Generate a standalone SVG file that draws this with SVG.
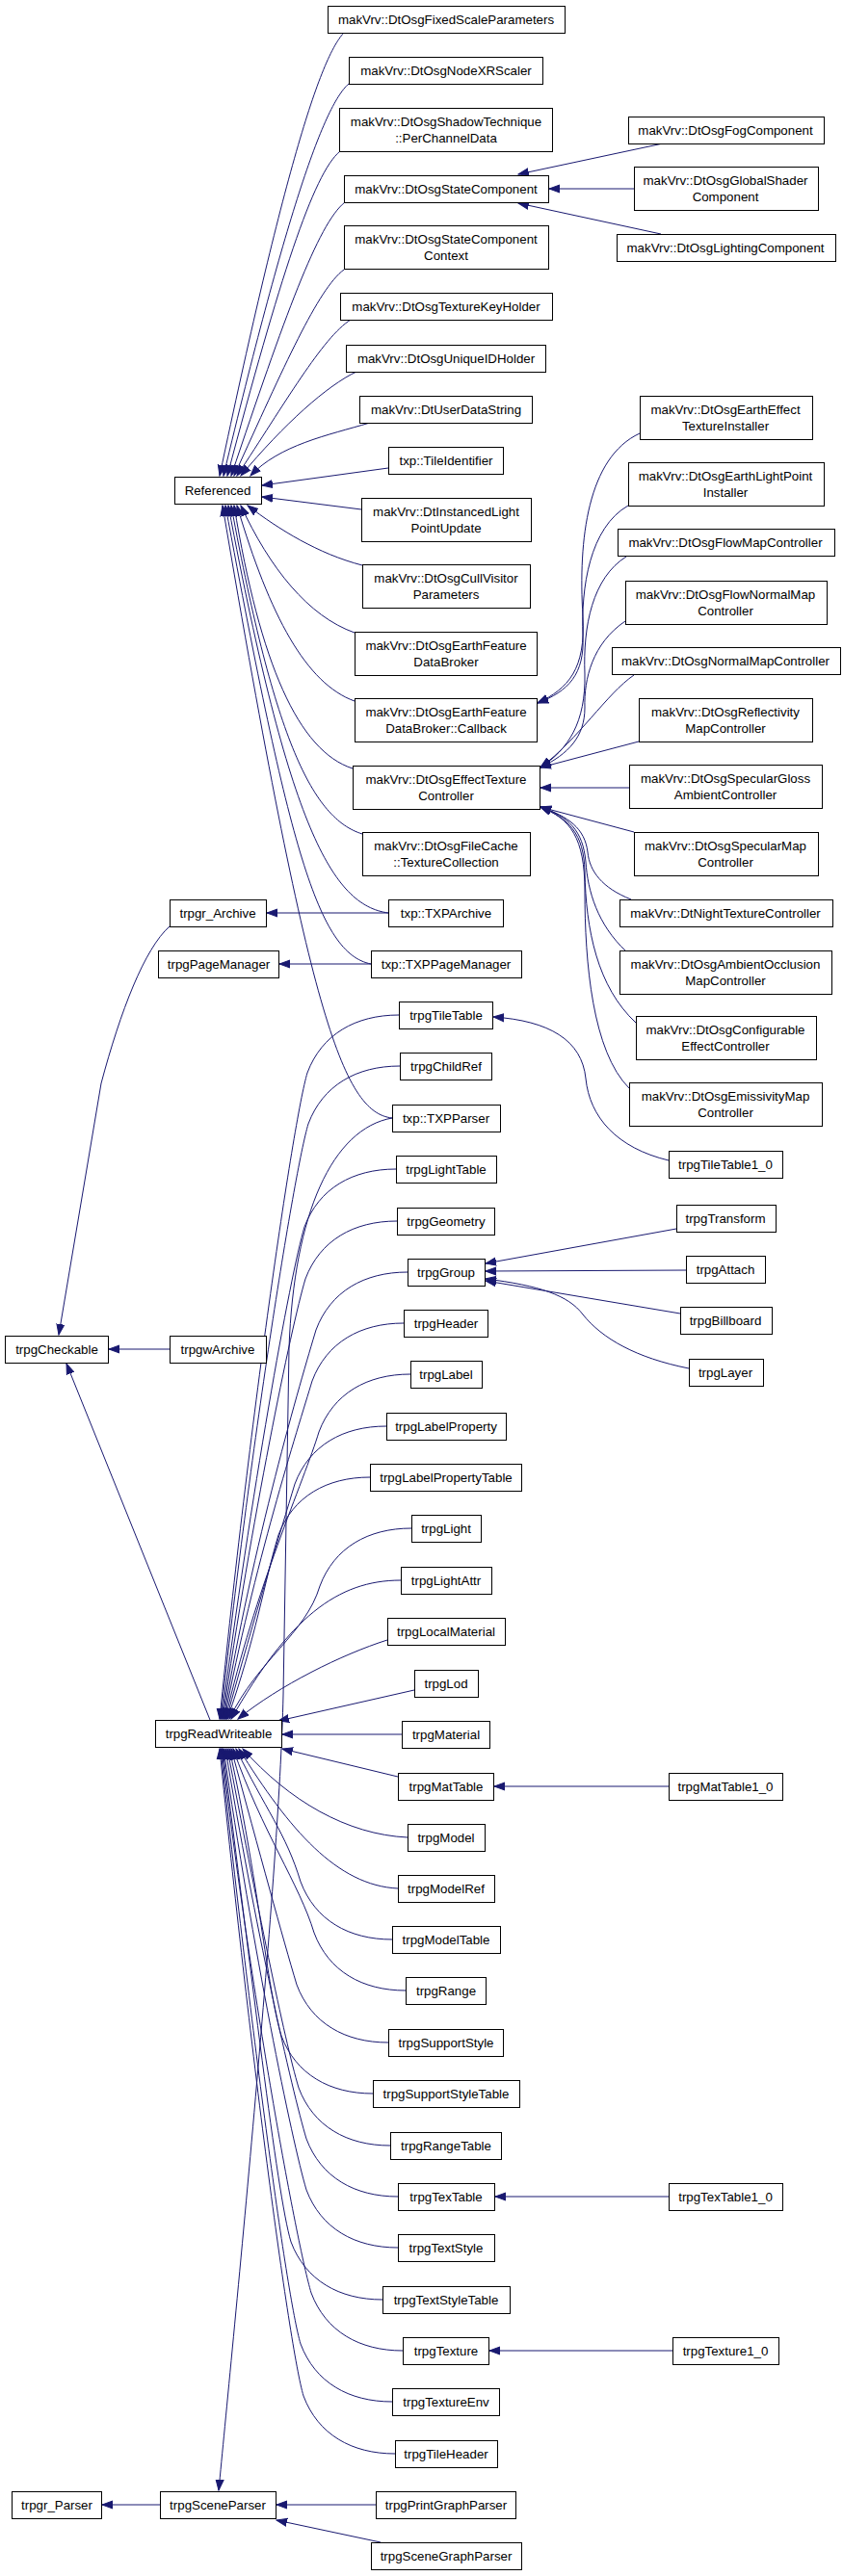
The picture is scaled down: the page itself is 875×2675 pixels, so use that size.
<svg xmlns="http://www.w3.org/2000/svg" width="875" height="2675" viewBox="0 0 875 2675">
<style>
.node rect{fill:#fff;stroke:#000;stroke-width:1}
.node text{font-family:"Liberation Sans",Arial,Helvetica,sans-serif;font-size:13.3px;fill:#000;text-anchor:middle}
.edge{fill:none;stroke:#191970;stroke-width:1;marker-end:url(#ah)}
</style>
<defs>
<marker id="ah" markerWidth="12" markerHeight="10" refX="11" refY="5" orient="auto" markerUnits="userSpaceOnUse"><path d="M0,1 L11,5 L0,9 z" fill="#191970" stroke="#191970" stroke-width="1"/></marker>
</defs>
<rect width="875" height="2675" fill="#fff"/>
<g id="edges">
<path class="edge" d="M357,34 C330,62 290,200 228,494"/>
<path class="edge" d="M362,87 C335,110 295,230 232,494"/>
<path class="edge" d="M353,157 C325,180 290,290 236,494"/>
<path class="edge" d="M358,210 C330,232 295,330 240,494"/>
<path class="edge" d="M357,280 C330,300 295,380 243,494"/>
<path class="edge" d="M364,332 C335,350 295,420 246,494"/>
<path class="edge" d="M370,386 C340,400 295,440 250,494"/>
<path class="edge" d="M384,439 C340,452 290,462 260,494"/>
<path class="edge" d="M403,486 L272,504"/>
<path class="edge" d="M375,529 L272,516"/>
<path class="edge" d="M376,587 C330,575 290,550 257,525"/>
<path class="edge" d="M368,657 C320,640 280,590 250,525"/>
<path class="edge" d="M368,728 C318,710 280,640 246,525"/>
<path class="edge" d="M366,798 C310,780 270,690 243,525"/>
<path class="edge" d="M376,866 C325,850 285,770 240,525"/>
<path class="edge" d="M403,948 C345,940 300,860 237,525"/>
<path class="edge" d="M385,1001 C330,990 300,880 234,525"/>
<path class="edge" d="M407,1161 C355,1155 320,1050 231,525"/>
<path class="edge" d="M688,149 L538,181"/>
<path class="edge" d="M658,196 L570,196"/>
<path class="edge" d="M686,243 L538,211"/>
<path class="edge" d="M664,450 C610,475 600,560 605,640 C608,695 590,715 558,730"/>
<path class="edge" d="M652,525 C612,548 603,610 605,660 C607,700 590,718 558,730"/>
<path class="edge" d="M650,578 C615,600 605,650 607,700 C608,750 590,778 561,797"/>
<path class="edge" d="M649,645 C615,668 606,705 607,735 C607,765 590,783 561,797"/>
<path class="edge" d="M658,701 C630,720 600,768 561,797"/>
<path class="edge" d="M663,770 L561,797"/>
<path class="edge" d="M653,818 L561,818"/>
<path class="edge" d="M658,864 L561,838"/>
<path class="edge" d="M655,934 C625,922 612,905 610,885 C607,860 590,848 561,838"/>
<path class="edge" d="M650,988 C620,960 610,925 608,895 C605,862 590,848 561,838"/>
<path class="edge" d="M660,1062 C620,1025 608,965 607,905 C606,865 590,850 561,838"/>
<path class="edge" d="M653,1130 C615,1092 607,1000 607,925 C607,870 592,850 561,838"/>
<path class="edge" d="M403,948 L277,948"/>
<path class="edge" d="M385,1001 L290,1001"/>
<path class="edge" d="M694,1205 C640,1192 612,1160 608,1120 C604,1080 570,1060 512,1056"/>
<path class="edge" d="M702,1276 L504,1312"/>
<path class="edge" d="M712,1319 L504,1320"/>
<path class="edge" d="M706,1364 L504,1330"/>
<path class="edge" d="M715,1421 C660,1410 625,1390 605,1365 C590,1345 560,1335 504,1328"/>
<path class="edge" d="M176,962 C150,985 125,1050 105,1125 L61,1386"/>
<path class="edge" d="M176,1401 L113,1401"/>
<path class="edge" d="M218,1786 L69,1416"/>
<path class="edge" d="M694,1855 L513,1855"/>
<path class="edge" d="M694,2281 L514,2281"/>
<path class="edge" d="M698,2441 L508,2441"/>
<path class="edge" d="M166,2601 L106,2601"/>
<path class="edge" d="M390,2601 L287,2601"/>
<path class="edge" d="M395,2640 L287,2617"/>
<path class="edge" d="M407,1161 C345,1172 305,1260 300,1400 L294,1760 C290,1950 240,2450 227,2586"/>
<path class="edge" d="M414,1054 C369,1054 334,1074 319,1114 C304,1164 258,1483 228,1785"/>
<path class="edge" d="M415,1107 C370,1107 335,1127 320,1167 C305,1217 259,1507 229,1785"/>
<path class="edge" d="M411,1214 C366,1214 331,1234 316,1274 C301,1324 260,1555 230,1785"/>
<path class="edge" d="M412,1268 C367,1268 332,1288 317,1328 C302,1378 261,1579 231,1785"/>
<path class="edge" d="M423,1321 C378,1321 343,1341 328,1381 C313,1431 262,1603 232,1785"/>
<path class="edge" d="M419,1374 C374,1374 339,1394 324,1434 C309,1484 263,1627 233,1785"/>
<path class="edge" d="M426,1427 C381,1427 346,1447 331,1487 C316,1537 264,1651 234,1785"/>
<path class="edge" d="M401,1481 C356,1481 321,1501 306,1541 C291,1591 265,1675 235,1785"/>
<path class="edge" d="M384,1534 C339,1534 304,1554 289,1594 C274,1644 266,1699 236,1785"/>
<path class="edge" d="M427,1587 C382,1587 347,1607 332,1647 C317,1697 268,1723 238,1785"/>
<path class="edge" d="M416,1641 C350,1641 300,1680 240,1785"/>
<path class="edge" d="M402,1703 C355,1718 290,1750 247,1785"/>
<path class="edge" d="M430,1755 L289,1787"/>
<path class="edge" d="M417,1801 L293,1801"/>
<path class="edge" d="M413,1845 L293,1816"/>
<path class="edge" d="M423,1908 C360,1905 300,1870 252,1816"/>
<path class="edge" d="M413,1961 C350,1958 300,1900 248,1816"/>
<path class="edge" d="M407,2014 C362,2014 327,1994 312,1954 C297,1904 275,1878 245,1816"/>
<path class="edge" d="M421,2067 C376,2067 341,2047 326,2007 C311,1957 272,1902 242,1816"/>
<path class="edge" d="M403,2121 C358,2121 323,2101 308,2061 C293,2011 270,1926 240,1816"/>
<path class="edge" d="M387,2174 C342,2174 307,2154 292,2114 C277,2064 268,1950 238,1816"/>
<path class="edge" d="M405,2228 C360,2228 325,2208 310,2168 C295,2118 266,1974 236,1816"/>
<path class="edge" d="M413,2281 C368,2281 333,2261 318,2221 C303,2171 264,1998 234,1816"/>
<path class="edge" d="M413,2334 C368,2334 333,2314 318,2274 C303,2224 262,2022 232,1816"/>
<path class="edge" d="M397,2388 C352,2388 317,2368 302,2328 C287,2278 261,2046 231,1816"/>
<path class="edge" d="M418,2441 C373,2441 338,2421 323,2381 C308,2331 260,2070 230,1816"/>
<path class="edge" d="M407,2494 C362,2494 327,2474 312,2434 C297,2384 259,2094 229,1816"/>
<path class="edge" d="M410,2548 C365,2548 330,2528 315,2488 C300,2438 258,2118 228,1816"/>
</g>
<g id="Referenced" class="node"><rect x="181.5" y="495.5" width="90" height="28"/><text x="226" y="514">Referenced</text></g>
<g id="trpgr_Archive" class="node"><rect x="176.5" y="934.5" width="100" height="28"/><text x="226" y="953">trpgr_Archive</text></g>
<g id="trpgPageManager" class="node"><rect x="164.5" y="987.5" width="125" height="28"/><text x="227" y="1006">trpgPageManager</text></g>
<g id="trpgwArchive" class="node"><rect x="176.5" y="1387.5" width="100" height="28"/><text x="226" y="1406">trpgwArchive</text></g>
<g id="trpgReadWriteable" class="node"><rect x="161.5" y="1786.5" width="131" height="28"/><text x="227" y="1805">trpgReadWriteable</text></g>
<g id="trpgSceneParser" class="node"><rect x="166.5" y="2587.5" width="120" height="28"/><text x="226" y="2606">trpgSceneParser</text></g>
<g id="trpgCheckable" class="node"><rect x="5.5" y="1387.5" width="107" height="28"/><text x="59" y="1406">trpgCheckable</text></g>
<g id="trpgr_Parser" class="node"><rect x="12.5" y="2587.5" width="93" height="28"/><text x="59" y="2606">trpgr_Parser</text></g>
<g id="FixedScaleParameters" class="node"><rect x="340.5" y="6.5" width="246" height="28"/><text x="463" y="25">makVrv::DtOsgFixedScaleParameters</text></g>
<g id="NodeXRScaler" class="node"><rect x="362.5" y="59.5" width="201" height="28"/><text x="463" y="78">makVrv::DtOsgNodeXRScaler</text></g>
<g id="PerChannelData" class="node"><rect x="352.5" y="112.5" width="221" height="45"/><text x="463" y="131">makVrv::DtOsgShadowTechnique</text><text x="463" y="148">::PerChannelData</text></g>
<g id="StateComponent" class="node"><rect x="357.5" y="182.5" width="212" height="28"/><text x="463" y="201">makVrv::DtOsgStateComponent</text></g>
<g id="StateComponentContext" class="node"><rect x="357.5" y="234.5" width="212" height="45"/><text x="463" y="253">makVrv::DtOsgStateComponent</text><text x="463" y="270">Context</text></g>
<g id="TextureKeyHolder" class="node"><rect x="353.5" y="304.5" width="220" height="28"/><text x="463" y="323">makVrv::DtOsgTextureKeyHolder</text></g>
<g id="UniqueIDHolder" class="node"><rect x="359.5" y="358.5" width="207" height="28"/><text x="463" y="377">makVrv::DtOsgUniqueIDHolder</text></g>
<g id="UserDataString" class="node"><rect x="373.5" y="411.5" width="179" height="28"/><text x="463" y="430">makVrv::DtUserDataString</text></g>
<g id="TileIdentifier" class="node"><rect x="403.5" y="464.5" width="119" height="28"/><text x="463" y="483">txp::TileIdentifier</text></g>
<g id="InstancedLightPointUpdate" class="node"><rect x="375.5" y="517.5" width="176" height="45"/><text x="463" y="536">makVrv::DtInstancedLight</text><text x="463" y="553">PointUpdate</text></g>
<g id="CullVisitorParameters" class="node"><rect x="376.5" y="586.5" width="174" height="45"/><text x="463" y="605">makVrv::DtOsgCullVisitor</text><text x="463" y="622">Parameters</text></g>
<g id="EarthFeatureDataBroker" class="node"><rect x="368.5" y="656.5" width="189" height="45"/><text x="463" y="675">makVrv::DtOsgEarthFeature</text><text x="463" y="692">DataBroker</text></g>
<g id="DataBrokerCallback" class="node"><rect x="368.5" y="725.5" width="189" height="45"/><text x="463" y="744">makVrv::DtOsgEarthFeature</text><text x="463" y="761">DataBroker::Callback</text></g>
<g id="EffectTextureController" class="node"><rect x="366.5" y="795.5" width="194" height="45"/><text x="463" y="814">makVrv::DtOsgEffectTexture</text><text x="463" y="831">Controller</text></g>
<g id="TextureCollection" class="node"><rect x="376.5" y="864.5" width="174" height="45"/><text x="463" y="883">makVrv::DtOsgFileCache</text><text x="463" y="900">::TextureCollection</text></g>
<g id="TXPArchive" class="node"><rect x="403.5" y="934.5" width="119" height="28"/><text x="463" y="953">txp::TXPArchive</text></g>
<g id="TXPPageManager" class="node"><rect x="385.5" y="987.5" width="156" height="28"/><text x="463" y="1006">txp::TXPPageManager</text></g>
<g id="trpgTileTable" class="node"><rect x="414.5" y="1040.5" width="97" height="28"/><text x="463" y="1059">trpgTileTable</text></g>
<g id="trpgChildRef" class="node"><rect x="415.5" y="1093.5" width="95" height="28"/><text x="463" y="1112">trpgChildRef</text></g>
<g id="TXPParser" class="node"><rect x="407.5" y="1147.5" width="112" height="28"/><text x="463" y="1166">txp::TXPParser</text></g>
<g id="trpgLightTable" class="node"><rect x="411.5" y="1200.5" width="104" height="28"/><text x="463" y="1219">trpgLightTable</text></g>
<g id="trpgGeometry" class="node"><rect x="412.5" y="1254.5" width="101" height="28"/><text x="463" y="1273">trpgGeometry</text></g>
<g id="trpgGroup" class="node"><rect x="423.5" y="1307.5" width="80" height="28"/><text x="463" y="1326">trpgGroup</text></g>
<g id="trpgHeader" class="node"><rect x="419.5" y="1360.5" width="87" height="28"/><text x="463" y="1379">trpgHeader</text></g>
<g id="trpgLabel" class="node"><rect x="426.5" y="1413.5" width="74" height="28"/><text x="463" y="1432">trpgLabel</text></g>
<g id="trpgLabelProperty" class="node"><rect x="401.5" y="1467.5" width="124" height="28"/><text x="463" y="1486">trpgLabelProperty</text></g>
<g id="trpgLabelPropertyTable" class="node"><rect x="384.5" y="1520.5" width="157" height="28"/><text x="463" y="1539">trpgLabelPropertyTable</text></g>
<g id="trpgLight" class="node"><rect x="427.5" y="1573.5" width="72" height="28"/><text x="463" y="1592">trpgLight</text></g>
<g id="trpgLightAttr" class="node"><rect x="416.5" y="1627.5" width="94" height="28"/><text x="463" y="1646">trpgLightAttr</text></g>
<g id="trpgLocalMaterial" class="node"><rect x="402.5" y="1680.5" width="122" height="28"/><text x="463" y="1699">trpgLocalMaterial</text></g>
<g id="trpgLod" class="node"><rect x="430.5" y="1734.5" width="66" height="28"/><text x="463" y="1753">trpgLod</text></g>
<g id="trpgMaterial" class="node"><rect x="417.5" y="1787.5" width="91" height="28"/><text x="463" y="1806">trpgMaterial</text></g>
<g id="trpgMatTable" class="node"><rect x="413.5" y="1841.5" width="99" height="28"/><text x="463" y="1860">trpgMatTable</text></g>
<g id="trpgModel" class="node"><rect x="423.5" y="1894.5" width="80" height="28"/><text x="463" y="1913">trpgModel</text></g>
<g id="trpgModelRef" class="node"><rect x="413.5" y="1947.5" width="100" height="28"/><text x="463" y="1966">trpgModelRef</text></g>
<g id="trpgModelTable" class="node"><rect x="407.5" y="2000.5" width="112" height="28"/><text x="463" y="2019">trpgModelTable</text></g>
<g id="trpgRange" class="node"><rect x="421.5" y="2053.5" width="83" height="28"/><text x="463" y="2072">trpgRange</text></g>
<g id="trpgSupportStyle" class="node"><rect x="403.5" y="2107.5" width="119" height="28"/><text x="463" y="2126">trpgSupportStyle</text></g>
<g id="trpgSupportStyleTable" class="node"><rect x="387.5" y="2160.5" width="152" height="28"/><text x="463" y="2179">trpgSupportStyleTable</text></g>
<g id="trpgRangeTable" class="node"><rect x="405.5" y="2214.5" width="115" height="28"/><text x="463" y="2233">trpgRangeTable</text></g>
<g id="trpgTexTable" class="node"><rect x="413.5" y="2267.5" width="100" height="28"/><text x="463" y="2286">trpgTexTable</text></g>
<g id="trpgTextStyle" class="node"><rect x="413.5" y="2320.5" width="100" height="28"/><text x="463" y="2339">trpgTextStyle</text></g>
<g id="trpgTextStyleTable" class="node"><rect x="397.5" y="2374.5" width="132" height="28"/><text x="463" y="2393">trpgTextStyleTable</text></g>
<g id="trpgTexture" class="node"><rect x="418.5" y="2427.5" width="89" height="28"/><text x="463" y="2446">trpgTexture</text></g>
<g id="trpgTextureEnv" class="node"><rect x="407.5" y="2480.5" width="111" height="28"/><text x="463" y="2499">trpgTextureEnv</text></g>
<g id="trpgTileHeader" class="node"><rect x="410.5" y="2534.5" width="106" height="28"/><text x="463" y="2553">trpgTileHeader</text></g>
<g id="trpgPrintGraphParser" class="node"><rect x="390.5" y="2587.5" width="145" height="28"/><text x="463" y="2606">trpgPrintGraphParser</text></g>
<g id="trpgSceneGraphParser" class="node"><rect x="385.5" y="2640.5" width="156" height="28"/><text x="463" y="2659">trpgSceneGraphParser</text></g>
<g id="FogComponent" class="node"><rect x="652.5" y="121.5" width="203" height="28"/><text x="753" y="140">makVrv::DtOsgFogComponent</text></g>
<g id="GlobalShaderComponent" class="node"><rect x="658.5" y="173.5" width="191" height="45"/><text x="753" y="192">makVrv::DtOsgGlobalShader</text><text x="753" y="209">Component</text></g>
<g id="LightingComponent" class="node"><rect x="640.5" y="243.5" width="227" height="28"/><text x="753" y="262">makVrv::DtOsgLightingComponent</text></g>
<g id="EarthEffectTextureInstaller" class="node"><rect x="664.5" y="411.5" width="179" height="45"/><text x="753" y="430">makVrv::DtOsgEarthEffect</text><text x="753" y="447">TextureInstaller</text></g>
<g id="EarthLightPointInstaller" class="node"><rect x="652.5" y="480.5" width="203" height="45"/><text x="753" y="499">makVrv::DtOsgEarthLightPoint</text><text x="753" y="516">Installer</text></g>
<g id="FlowMapController" class="node"><rect x="641.5" y="549.5" width="225" height="28"/><text x="753" y="568">makVrv::DtOsgFlowMapController</text></g>
<g id="FlowNormalMapController" class="node"><rect x="649.5" y="603.5" width="209" height="45"/><text x="753" y="622">makVrv::DtOsgFlowNormalMap</text><text x="753" y="639">Controller</text></g>
<g id="NormalMapController" class="node"><rect x="635.5" y="672.5" width="237" height="28"/><text x="753" y="691">makVrv::DtOsgNormalMapController</text></g>
<g id="ReflectivityMapController" class="node"><rect x="663.5" y="725.5" width="180" height="45"/><text x="753" y="744">makVrv::DtOsgReflectivity</text><text x="753" y="761">MapController</text></g>
<g id="SpecularGlossAmbientController" class="node"><rect x="653.5" y="794.5" width="200" height="45"/><text x="753" y="813">makVrv::DtOsgSpecularGloss</text><text x="753" y="830">AmbientController</text></g>
<g id="SpecularMapController" class="node"><rect x="658.5" y="864.5" width="191" height="45"/><text x="753" y="883">makVrv::DtOsgSpecularMap</text><text x="753" y="900">Controller</text></g>
<g id="NightTextureController" class="node"><rect x="643.5" y="934.5" width="221" height="28"/><text x="753" y="953">makVrv::DtNightTextureController</text></g>
<g id="AmbientOcclusionMapController" class="node"><rect x="643.5" y="987.5" width="220" height="45"/><text x="753" y="1006">makVrv::DtOsgAmbientOcclusion</text><text x="753" y="1023">MapController</text></g>
<g id="ConfigurableEffectController" class="node"><rect x="660.5" y="1055.5" width="187" height="45"/><text x="753" y="1074">makVrv::DtOsgConfigurable</text><text x="753" y="1091">EffectController</text></g>
<g id="EmissivityMapController" class="node"><rect x="653.5" y="1124.5" width="200" height="45"/><text x="753" y="1143">makVrv::DtOsgEmissivityMap</text><text x="753" y="1160">Controller</text></g>
<g id="trpgTileTable1_0" class="node"><rect x="694.5" y="1195.5" width="118" height="28"/><text x="753" y="1214">trpgTileTable1_0</text></g>
<g id="trpgTransform" class="node"><rect x="702.5" y="1251.5" width="103" height="28"/><text x="753" y="1270">trpgTransform</text></g>
<g id="trpgAttach" class="node"><rect x="712.5" y="1304.5" width="82" height="28"/><text x="753" y="1323">trpgAttach</text></g>
<g id="trpgBillboard" class="node"><rect x="706.5" y="1357.5" width="95" height="28"/><text x="753" y="1376">trpgBillboard</text></g>
<g id="trpgLayer" class="node"><rect x="715.5" y="1411.5" width="77" height="28"/><text x="753" y="1430">trpgLayer</text></g>
<g id="trpgMatTable1_0" class="node"><rect x="694.5" y="1841.5" width="118" height="28"/><text x="753" y="1860">trpgMatTable1_0</text></g>
<g id="trpgTexTable1_0" class="node"><rect x="694.5" y="2267.5" width="118" height="28"/><text x="753" y="2286">trpgTexTable1_0</text></g>
<g id="trpgTexture1_0" class="node"><rect x="698.5" y="2427.5" width="110" height="28"/><text x="753" y="2446">trpgTexture1_0</text></g>
</svg>
